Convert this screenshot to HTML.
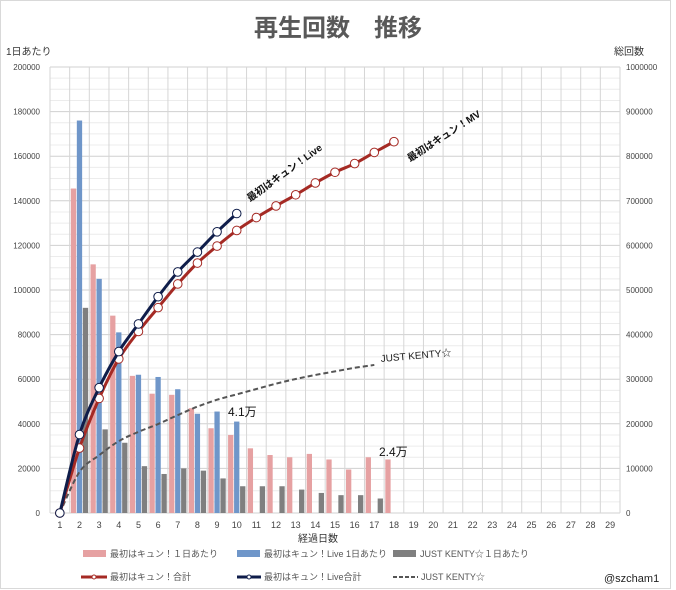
<!DOCTYPE html>
<html><head><meta charset="utf-8">
<style>
html,body{margin:0;padding:0;background:#fff;}
svg{display:block;font-family:"Liberation Sans","Noto Sans CJK JP",sans-serif;}
</style></head>
<body>
<svg id="chart" width="676" height="590" viewBox="0 0 676 590" xmlns="http://www.w3.org/2000/svg">
<rect x="0.5" y="0.5" width="670" height="588" fill="#fff" stroke="#d9d9d9"/>
<text x="338" y="36" text-anchor="middle" font-size="24" font-weight="bold" fill="#595959">再生回数　推移</text>
<text x="6" y="55" font-size="10" fill="#333">1日あたり</text>
<text x="614" y="55" font-size="10" fill="#333">総回数</text>
<text x="318" y="542" text-anchor="middle" font-size="10" fill="#333">経過日数</text>
<g id="grid"></g><g id="bars"></g><g id="lines"></g><g id="axes"></g>
<text x="0" y="0" font-size="10" font-weight="bold" fill="#111" transform="translate(250,202) rotate(-36)">最初はキュン！Live</text>
<text x="0" y="0" font-size="10" font-weight="bold" fill="#111" transform="translate(410,162) rotate(-33)">最初はキュン！MV</text>
<text x="0" y="0" font-size="10" fill="#222" transform="translate(381,362) rotate(-5)">JUST KENTY☆</text>
<text x="228" y="416" font-size="12" fill="#111">4.1万</text>
<text x="379" y="456" font-size="12" fill="#111">2.4万</text>
<g>
<rect x="83" y="550" width="23" height="7" fill="#e6a1a2"/>
<text x="110" y="557" font-size="9" fill="#555">最初はキュン！１日あたり</text>
<rect x="237" y="550" width="23" height="7" fill="#6f96c9"/>
<text x="264" y="557" font-size="9" fill="#555">最初はキュン！Live 1日あたり</text>
<rect x="393" y="550" width="23" height="7" fill="#7f7f7f"/>
<text x="420" y="557" font-size="9" fill="#555">JUST KENTY☆１日あたり</text>
<line x1="81" y1="577" x2="107" y2="577" stroke="#a52a24" stroke-width="3"/>
<circle cx="94" cy="577" r="2" fill="#fff" stroke="#a52a24"/>
<text x="110" y="580" font-size="9" fill="#555">最初はキュン！合計</text>
<line x1="237" y1="577" x2="261" y2="577" stroke="#0f1d4a" stroke-width="3"/>
<circle cx="249" cy="577" r="2" fill="#fff" stroke="#0f1d4a"/>
<text x="264" y="580" font-size="9" fill="#555">最初はキュン！Live合計</text>
<line x1="393" y1="577" x2="418" y2="577" stroke="#555" stroke-width="2" stroke-dasharray="4,2"/>
<text x="421" y="580" font-size="9" fill="#555">JUST KENTY☆</text>
</g>
<text x="604" y="582" font-size="11" fill="#222">@szcham1</text>
</svg>
<script>
const days = [1,2,3,4,5,6,7,8,9,10,11,12,13,14,15,16,17,18,19,20,21,22,23,24,25,26,27,28,29];
const mvDaily = [0,145500,111500,88500,61500,53500,53000,47000,38000,35000,29000,26000,25000,26500,24000,19500,25000,24000];
const liveDaily = [0,176000,105000,81000,62000,61000,55500,44500,45500,41000];
const kentyDaily = [0,92000,37500,31500,21000,17500,20000,19000,15500,12000,12000,12000,10500,9000,8000,8000,6500];
const mvTotal = [0,145500,257000,345500,407000,460500,513500,560500,598500,633500,662500,688500,713500,740000,764000,783500,808500,832500];
const liveTotal = [0,176000,281000,362000,424000,485000,540500,585000,630500,671500];
const kentyTotal = [0,92000,129500,161000,182000,199500,219500,238500,254000,266000,278000,290000,300500,309500,317500,325500,332000];
const leftTicks = [0,20000,40000,60000,80000,100000,120000,140000,160000,180000,200000];
const rightTicks = [0,100000,200000,300000,400000,500000,600000,700000,800000,900000,1000000];

const NS="http://www.w3.org/2000/svg";
const L=50,R=620,T=67,B=513;
const step=(R-L)/days.length;
const xC=i=>L+step*(i+0.5);
const yL=v=>B-(v/200000)*(B-T);
const yR=v=>B-(v/1000000)*(B-T);
function mk(tag,attrs,parent){const e=document.createElementNS(NS,tag);for(const k in attrs)e.setAttribute(k,attrs[k]);parent.appendChild(e);return e;}
const grid=document.getElementById('grid'),bars=document.getElementById('bars'),lines=document.getElementById('lines'),axes=document.getElementById('axes');
for(let v=0;v<=200000;v+=5000){const ln=mk('line',{x1:L,x2:R,y1:yL(v),y2:yL(v),stroke:v%20000===0?'#d0d0d0':'#ececec','stroke-width':1},grid);

}
for(let i=0;i<=days.length;i++){const ln=mk('line',{x1:L+step*i,x2:L+step*i,y1:T,y2:B,stroke:'#d6d6d6','stroke-width':1},grid);

}
leftTicks.forEach(v=>{const t=mk('text',{x:40,y:yL(v)+3,'text-anchor':'end','font-size':8,fill:'#444'},axes);t.textContent=v;

});
rightTicks.forEach(v=>{const t=mk('text',{x:626,y:yR(v)+3,'font-size':8,fill:'#444'},axes);t.textContent=v;

});
days.forEach((d,i)=>{const t=mk('text',{x:xC(i),y:528,'text-anchor':'middle','font-size':9,fill:'#444'},axes);t.textContent=d;

});
const bw=5.3;
function drawBars(arr,off,color,name){arr.forEach((v,i)=>{if(!v)return;const r=mk('rect',{x:xC(i)+off-bw/2,y:yL(v),width:bw,height:B-yL(v),fill:color},bars);

});}
drawBars(mvDaily,-6,'#e6a1a2','bar-mv-daily');
drawBars(liveDaily,0,'#6f96c9','bar-live-daily');
drawBars(kentyDaily,6,'#7f7f7f','bar-kenty-daily');
function smooth(pts){let d='M'+pts[0][0]+','+pts[0][1];for(let i=0;i<pts.length-1;i++){const p0=pts[i-1]||pts[i],p1=pts[i],p2=pts[i+1],p3=pts[i+2]||p2;
const c1=[p1[0]+(p2[0]-p0[0])/6,p1[1]+(p2[1]-p0[1])/6],c2=[p2[0]-(p3[0]-p1[0])/6,p2[1]-(p3[1]-p1[1])/6];
d+=' C'+c1[0]+','+c1[1]+' '+c2[0]+','+c2[1]+' '+p2[0]+','+p2[1];}return d;}
function drawLine(arr,color,w,dash,markers,name){const pts=arr.map((v,i)=>[xC(i),yR(v)]);
const p=mk('path',{d:smooth(pts),fill:'none',stroke:color,'stroke-width':w},lines);if(dash)p.setAttribute('stroke-dasharray',dash);


if(markers)pts.forEach(q=>{const c=mk('circle',{cx:q[0],cy:q[1],r:4.3,fill:'#fff',stroke:color,'stroke-width':1},lines);

});}
drawLine(kentyTotal,'#555',2,'5,3',false,'line-kenty-total');
drawLine(mvTotal,'#a52a24',3,null,true,'line-mv-total');
drawLine(liveTotal,'#0f1d4a',3,null,true,'line-live-total');
</script>
</body></html>
